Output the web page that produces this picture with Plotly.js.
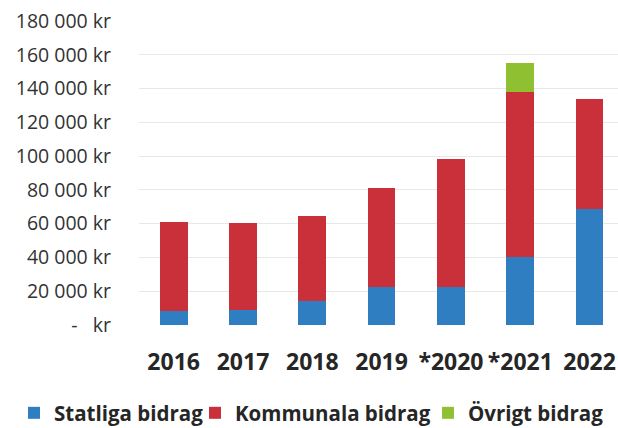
<!DOCTYPE html>
<html><head><meta charset="utf-8">
<script src="https://cdn.plot.ly/plotly-3.0.1.min.js"></script>
<style>html,body{margin:0;padding:0;background:#fff}#c{width:618px;height:428px}</style>
</head><body><div id="c"></div>
<script>
const years = ["2016","2017","2018","2019","*2020","*2021","2022"];
const statliga = [8500, 8900, 14200, 22700, 22700, 40400, 68500];
const kommunala = [52300, 51300, 50300, 58600, 75600, 97700, 65300];
const ovrigt = [0, 0, 0, 0, 0, 16900, 0];
const tickVals = [0,20000,40000,60000,80000,100000,120000,140000,160000,180000];
const tickText = ["-   kr","20 000 kr","40 000 kr","60 000 kr","80 000 kr","100 000 kr","120 000 kr","140 000 kr","160 000 kr","180 000 kr"];
const names = ["Statliga bidrag","Kommunala bidrag","Övrigt bidrag"];
const colors = ["#2F7EC1","#C9303A","#8FC031"];
const series = [statliga, kommunala, ovrigt];
const legendIds = ["legend","legend2","legend3"];
const legendX = [14, 195, 428];
const traces = series.map((v,i)=>({
  type:'bar', x: years, y: v, name: names[i], legend: legendIds[i],
  marker:{color: colors[i], line:{width:0}}, width:0.4, hoverinfo:'none'
}));
const FONT = '"Open Sans", Lato, sans-serif';
const layout = {
  width:618, height:428, barmode:'stack',
  margin:{l:139, r:0, t:21, b:103},
  paper_bgcolor:'#fff', plot_bgcolor:'#fff',
  font:{family:FONT, color:'#262626', size:18},
  xaxis:{type:'category', range:[-0.5,6.41], showgrid:false, zeroline:false, showline:false,
    ticks:'', ticklabelstandoff:21, tickfont:{size:23, weight:'bold', color:'#262626'}},
  yaxis:{range:[0,180000], tickvals:tickVals, ticktext:tickText, showgrid:true, gridcolor:'#e8e8e8', gridwidth:1,
    zeroline:false, showline:false, ticks:'', ticklabelstandoff:27, tickfont:{size:19.5, color:'#333333'}},
  showlegend:true,
  bargap:0.6
};
legendIds.forEach((id,i)=>{
  layout[id] = {orientation:'h', xref:'container', yref:'container', x: legendX[i]/618, xanchor:'left',
    y: 1 - 413/428, yanchor:'middle', bgcolor:'rgba(0,0,0,0)', borderwidth:0,
    font:{family:FONT, size:20.5, weight:'bold', color:'#262626'}};
});
Plotly.newPlot('c', traces, layout, {staticPlot:true, displayModeBar:false});
</script></body></html>
